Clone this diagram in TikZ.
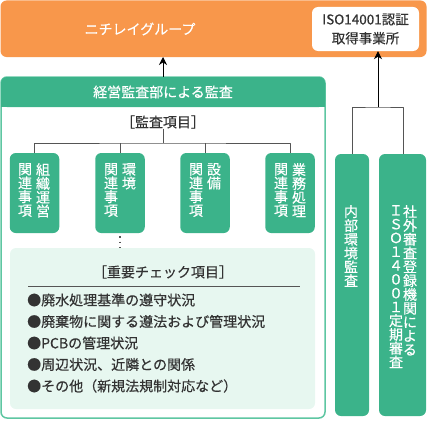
\documentclass[tikz,border=0pt]{standalone}
\usepackage{fontspec}
\usetikzlibrary{arrows.meta}
\newfontfamily\cjk{Noto Sans CJK JP}[FakeBold=0.4]
\definecolor{nichiorange}{HTML}{F8974B}
\definecolor{nichigreen}{HTML}{3BB38A}
\definecolor{framegreen}{HTML}{5EC6A2}
\definecolor{mint}{HTML}{E7F7F0}
\definecolor{linegray}{HTML}{555555}
\definecolor{textdark}{HTML}{333333}
\tikzset{
  grnbox/.style={fill=nichigreen, rounded corners=6pt, draw=none},
  tate/.style={text=white, font=\cjk\fontsize{14}{13.8}\selectfont, align=center, inner sep=0pt, anchor=north},
  wtext/.style={text=white, font=\cjk\fontsize{14}{16}\selectfont, inner sep=0pt},
  dtext/.style={text=textdark, font=\cjk\fontsize{14}{16}\selectfont, inner sep=0pt},
  tree/.style={draw=linegray, line width=0.8pt},
}
\begin{document}
\begin{tikzpicture}[x=1pt,y=-1pt,>={Stealth[length=8pt,width=8pt]},line join=round]
	\useasboundingbox (0,0) rectangle (427,420);
	% top: group
	\fill[nichiorange, rounded corners=6pt] (0.5,0.5) rectangle (426.5,57);
	\node[wtext] (group) at (140,29) {ニチレイグループ};
	\node[fill=white, rounded corners=6pt, minimum width=107pt, minimum height=44pt, inner sep=0pt] (isobox) at (365.5,29) {};
	\node[dtext, align=center, font=\cjk\fontsize{13.5}{19}\selectfont] (isotext) at (isobox) {ISO14001認証\\取得事業所};
	% left: audit department
	\draw[framegreen, line width=1.5pt, rounded corners=6pt] (1,77) rectangle (325,418);
	\fill[nichigreen, rounded corners=6pt] (1,77) -- (325,77) -- (325,107) -- (1,107) -- cycle;
	\fill[nichigreen] (1,95) rectangle (325,107);
	\coordinate (hdtop) at (163,77);
	\node[wtext] (audit) at (163,92) {経営監査部による監査};
	\node[dtext] (items) at (163,122) {［監査項目］};
	\coordinate (fork) at (163,143);
	\foreach \x/\name in {34.5/k1,120/k2,205/k3,290/k4}
		\node[grnbox, minimum width=49.5pt, minimum height=80pt, inner sep=0pt] (\name) at (\x,193) {};
	\node[tate] (k1a) at (25,163) {関\\連\\事\\項};
	\node[tate] (k1b) at (43,163) {組\\織\\運\\営};
	\node[tate] (k2a) at (111,163) {関\\連\\事\\項};
	\node[tate] (k2b) at (129,163) {環\\境};
	\node[tate] (k3a) at (196,163) {関\\連\\事\\項};
	\node[tate] (k3b) at (214,163) {設\\備};
	\node[tate] (k4a) at (281,163) {関\\連\\事\\項};
	\node[tate] (k4b) at (299,163) {業\\務\\処\\理};
	\draw[tree] (items.south) -- (fork);
	\draw[tree] (k1.north) |- (fork) -| (k4.north);
	\draw[tree] (k2.north) -- (k2.north |- fork);
	\draw[tree] (k3.north) -- (k3.north |- fork);
	\draw[->, line width=0.8pt] (hdtop) -- (hdtop |- 0,57);
	% check items
	\node[fill=mint, rounded corners=6pt, minimum width=305pt, minimum height=161pt, inner sep=0pt] (check) at (162.5,328.5) {};
	\draw[linegray, line width=1.4pt, dash pattern=on 1.4pt off 4pt] (k2.south) ++(0,3) -- (120,248);
	\node[dtext] (chktitle) at (163,272) {［重要チェック項目］};
	\draw[linegray, line width=0.8pt] (28,286) -- (300,286);
	\node[dtext, anchor=west] (c1) at (27,300) {●廃水処理基準の遵守状況};
	\node[dtext, anchor=west] (c2) at (27,321.5) {●廃棄物に関する遵法および管理状況};
	\node[dtext, anchor=west] (c3) at (27,343) {●PCBの管理状況};
	\node[dtext, anchor=west] (c4) at (27,364.5) {●周辺状況、近隣との関係};
	\node[dtext, anchor=west] (c5) at (27,386) {●その他（新規法規制対応など）};
	% right: environmental audits
	\node[grnbox, minimum width=34pt, minimum height=262pt, inner sep=0pt] (inner) at (352,285) {};
	\node[grnbox, minimum width=47pt, minimum height=262pt, inner sep=0pt] (outer) at (402.5,285) {};
	\node[tate] (innertext) at (351,205) {内\\部\\環\\境\\監\\査};
	\node[tate] (outera) at (396,205) {Ｉ\\Ｓ\\Ｏ\\１\\４\\０\\０\\１\\定\\期\\審\\査};
	\node[tate] (outerb) at (410,205) {社\\外\\審\\査\\登\\録\\機\\関\\に\\よ\\る};
	\coordinate (rfork) at (378,107);
	\draw[tree] (inner.north) |- (rfork) -| (outer.north -| 403,0);
	\draw[->, line width=0.8pt] (rfork) -- (rfork |- isobox.south);
\end{tikzpicture}
\end{document}
